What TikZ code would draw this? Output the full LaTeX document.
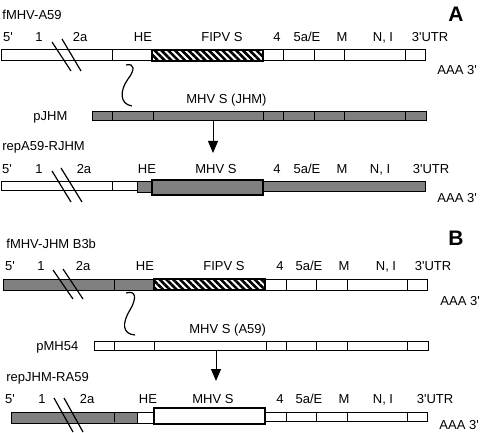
\documentclass[tikz,border=0pt]{standalone}
\usepackage{fontspec}
\setmainfont{Liberation Sans}
\usetikzlibrary{arrows.meta,patterns.meta}
\newcommand{\apos}{\textquotesingle}

\begin{document}
\begin{tikzpicture}[
x=0.5pt, y=-0.5pt,
lbl/.style={font=\fontsize{6.5}{8}\selectfont, anchor=base, inner sep=0pt},
title/.style={lbl, anchor=base west},
panel/.style={font=\fontsize{10.5}{12}\selectfont\bfseries, anchor=base, inner sep=0pt},
wseg/.style={draw, line width=0.5pt, fill=white},
gseg/.style={draw, line width=0.5pt, fill=gray},
gene/.style={draw, line width=0.9pt},
hatch/.style={draw, line width=1pt, pattern={Lines[angle=-45,distance=2.4pt,line width=1.3pt]}},
brk/.style={line width=0.6pt},
squig/.style={line width=0.6pt},
arrow/.style={-{Triangle[length=6pt,width=5pt]}, line width=0.5pt} ]

\useasboundingbox (0,0) rectangle (480,432);

% ---------- panel A
\node[title] (fA59) at (2,20) {fMHV-A59};
\node[panel] (pA) at (456,22) {A};

\foreach \x/\t [count=\i] in {8/5\apos, 39/1, 80/2a, 143/HE, 222/FIPV S, 277/4, 307/{5a/E}, 342/M, 383/{N, I}, 430/3\apos UTR}
  \node[lbl] (a1-\i) at (\x,42) {\t};

\draw[wseg] (1,50) rectangle (152,61);
\draw (112,50) -- (112,61);
\draw[hatch] (152,50) rectangle (263,61);
\draw[wseg] (263,50) rectangle (425,61);
\foreach \d in {283,314,344,405} \draw (\d,50) -- (\d,61);
\draw[brk] (52,42) -- (71,71) (62,39) -- (81,71);
\node[title] (aaaA1) at (437,75) {AAA 3\apos};

\coordinate (qA1) at (126,65);
\coordinate (qA2) at (132,106);
\draw[squig] (qA1) .. controls (135,63) and (135,70) .. (128,79) .. controls (120,90) and (119,104) .. (qA2);

\node[title] (sJHM) at (186,104) {MHV S (JHM)};
\node[title] (pJHM) at (33,121) {pJHM};
\draw[gseg] (92,112) rectangle (426,121);
\foreach \d in {112,153,263,283,314,344,405} \draw (\d,112) -- (\d,121);

\coordinate (arA1) at (213,121);
\coordinate (arA2) at (213,153);
\draw[arrow] (arA1) -- (arA2);

\node[title] (rA59) at (2,151) {repA59-RJHM};
\foreach \x/\t [count=\i] in {7/5\apos, 39/1, 84/2a, 147/HE, 216/MHV S, 277/4, 307/{5a/E}, 342/M, 380/{N, I}, 431/3\apos UTR}
  \node[lbl] (a2-\i) at (\x,174) {\t};

\draw[wseg] (1,182) rectangle (137,191);
\draw (112,182) -- (112,191);
\draw[gseg] (137,182) rectangle (152,193);
\draw[gseg] (263,182) rectangle (425,192);
\draw[gseg, gene] (152,180) rectangle (263,195);
\draw[brk] (52,171) -- (71,202) (61,168) -- (82,202);
\node[title] (aaaA2) at (437,203) {AAA 3\apos};

% ---------- panel B
\node[title] (fJHM) at (6,249) {fMHV-JHM B3b};
\node[panel] (pB) at (456,245) {B};

\foreach \x/\t [count=\i] in {10/5\apos, 41/1, 83/2a, 145/HE, 224/FIPV S, 280/4, 309/{5a/E}, 344/M, 386/{N, I}, 433/3\apos UTR}
  \node[lbl] (b1-\i) at (\x,270) {\t};

\draw[gseg] (3,279) rectangle (154,290);
\draw (114,279) -- (114,290);
\draw[hatch] (154,279) rectangle (265,290);
\draw[wseg] (265,279) rectangle (427,290);
\foreach \d in {286,316,347,407} \draw (\d,279) -- (\d,290);
\draw[brk] (53,270) -- (73,299) (63,269) -- (83,299);
\node[title] (aaaB1) at (440,305) {AAA 3\apos};

\coordinate (qB1) at (126,293);
\coordinate (qB2) at (135,335);
\draw[squig] (qB1) .. controls (136,290) and (137,298) .. (130,310) .. controls (122,323) and (122,334) .. (qB2);

\node[title] (sA59) at (189,333) {MHV S (A59)};
\node[title] (pMH) at (36,350) {pMH54};
\draw[wseg] (94,341) rectangle (428,350);
\foreach \d in {114,154,266,286,316,347,407} \draw (\d,341) -- (\d,350);

\coordinate (arB1) at (216,350);
\coordinate (arB2) at (216,381);
\draw[arrow] (arB1) -- (arB2);

\node[title] (rJHM) at (6,381) {repJHM-RA59};
\foreach \x/\t [count=\i] in {10/5\apos, 42/1, 87/2a, 148/HE, 213/MHV S, 280/4, 309/{5a/E}, 344/M, 383/{N, I}, 435/3\apos UTR}
  \node[lbl] (b2-\i) at (\x,403) {\t};

\draw[gseg] (11,412) rectangle (137,423);
\draw (114,412) -- (114,422);
\draw[wseg] (137,412) rectangle (154,423);
\draw[wseg] (265,412) rectangle (427,421);
\foreach \d in {286,316,347,407} \draw (\d,412) -- (\d,421);
\draw[wseg, gene] (154,408) rectangle (265,424);
\draw[brk] (54,398) -- (73,432) (64,398) -- (83,432);
\node[title] (aaaB2) at (439,429) {AAA 3\apos};
\end{tikzpicture}
\end{document}
